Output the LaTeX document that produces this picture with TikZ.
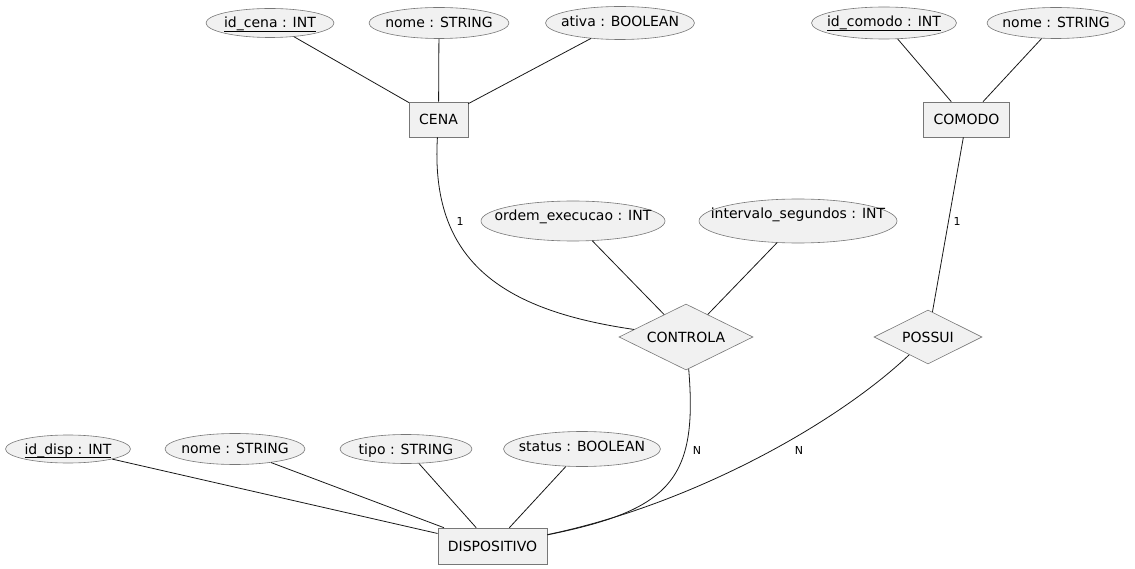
\documentclass[tikz,border=0pt]{standalone}
\usepackage{fontspec}
\setmainfont{DejaVu Sans}
\usepackage{tikz}
\usetikzlibrary{positioning,shapes.geometric}
\definecolor{boxfill}{HTML}{F1F1F1}
\definecolor{boxline}{HTML}{777777}
\definecolor{edgeline}{HTML}{181818}
\newcommand{\pkey}[1]{%
  \setbox0\hbox{#1}\rlap{\vrule height -3pt depth 4pt width \wd0}\box0}

\begin{document}
\begin{tikzpicture}[
  x=1pt, y=-1pt,
  every node/.style={font=\fontsize{14pt}{16pt}\selectfont},
  entity/.style={
    draw=boxline, fill=boxfill, line width=0.6pt,
    minimum height=35pt, inner xsep=10pt, inner ysep=0pt,
    text height=10pt, text depth=0pt,
  },
  attr/.style n args={3}{
    ellipse, draw=boxline, fill=boxfill, line width=0.6pt,
    minimum width=#1, minimum height=#2, inner sep=0pt,
    text height=10pt, text depth=#3,
    execute at begin node=\hbox to 0pt\bgroup\hss,
    execute at end node=\hss\egroup,
  },
  relation/.style 2 args={
    diamond, draw=boxline, fill=boxfill, line width=0.6pt,
    minimum width=#1, minimum height=#2, inner sep=0pt,
    text height=10pt, text depth=0pt,
    execute at begin node=\hbox to 0pt\bgroup\hss,
    execute at end node=\hss\egroup,
  },
  link/.style={draw=edgeline, line width=0.8pt},
  card/.style={font=\fontsize{11pt}{13pt}\selectfont},
]
  \useasboundingbox (0,0) rectangle (1135,569);

  % entities
  \node[entity] (cena) at (438.5,119.5) {CENA};
  \node[entity] (comodo) at (966.5,119.5) {COMODO};
  \node[entity, minimum height=36pt] (disp) at (492.5,546) {DISPOSITIVO};

  % relations
  \node[relation={134pt}{66pt}] (controla) at (686,337) {CONTROLA};
  \node[relation={108pt}{54pt}] (possui) at (928,337) {POSSUI};

  % attributes
  \node[attr={128pt}{29pt}{0pt}] (idcena) at (270,23) {\pkey{id\_cena : INT}};
  \node[attr={140pt}{31pt}{1pt}] (nomecena) at (439,23) {nome : STRING};
  \node[attr={149pt}{33pt}{3pt}] (ativa) at (620,23) {ativa : BOOLEAN};
  \node[attr={145pt}{32pt}{2pt}] (idcomodo) at (884,23) {\pkey{id\_comodo : INT}};
  \node[attr={138pt}{31pt}{1pt}] (nomecomodo) at (1056,23) {nome : STRING};
  \node[attr={184pt}{40pt}{10pt}] (ordem) at (573,221) {ordem\_execucao : INT};
  \node[attr={198pt}{44pt}{14pt}] (intervalo) at (798,221) {intervalo\_segundos : INT};
  \node[attr={125pt}{28pt}{0pt}] (iddisp) at (68,449) {\pkey{id\_disp : INT}};
  \node[attr={140pt}{31pt}{1pt}] (nomedisp) at (235,449) {nome : STRING};
  \node[attr={132pt}{29pt}{0pt}] (tipo) at (406,449) {tipo : STRING};
  \node[attr={157pt}{35pt}{5pt}] (status) at (582,449) {status : BOOLEAN};

  % attribute links
  \draw[link] (idcena) -- (cena);
  \draw[link] (nomecena) -- (cena);
  \draw[link] (ativa) -- (cena);
  \draw[link] (idcomodo) -- (comodo);
  \draw[link] (nomecomodo) -- (comodo);
  \draw[link] (ordem) -- (controla);
  \draw[link] (intervalo) -- (controla);
  \draw[link] (iddisp) -- (disp);
  \draw[link] (nomedisp) -- (disp);
  \draw[link] (tipo) -- (disp);
  \draw[link] (status) -- (disp);

  % relation links
  \draw[link] (cena) .. controls (430,260) and (500,310) .. (controla);
  \draw[link] (controla) .. controls (698,480) and (670,510) .. (disp);
  \draw[link] (comodo) -- (possui);
  \draw[link] (possui) .. controls (835,425) and (690,505) .. (disp);

  % cardinalities
  \node[card] (c1) at (460,221) {1};
  \node[card] (c2) at (697,450) {N};
  \node[card] (c3) at (957,221) {1};
  \node[card] (c4) at (799,450) {N};
\end{tikzpicture}
\end{document}
